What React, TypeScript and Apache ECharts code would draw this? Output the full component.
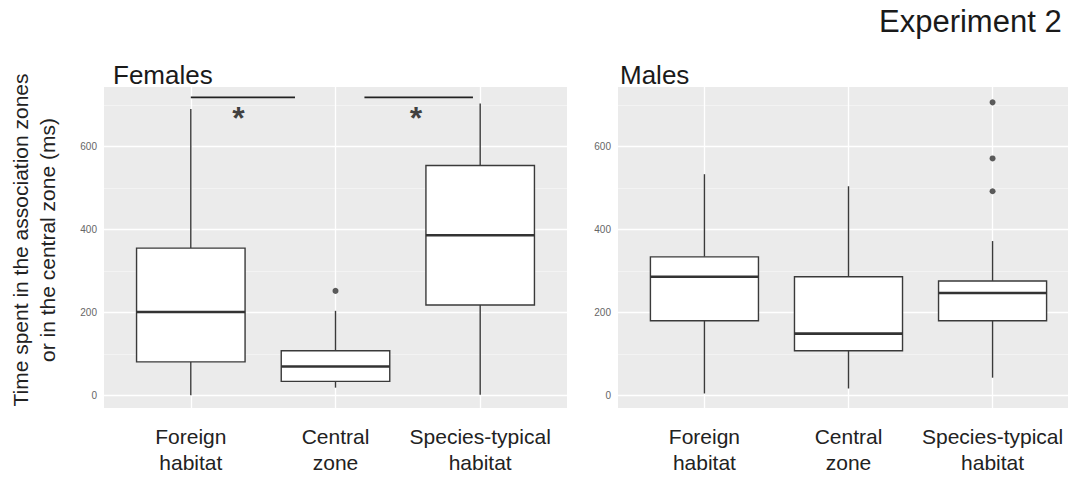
import React, { useEffect, useRef } from 'react';
import * as echarts from 'echarts';

const categories = ['Foreign\nhabitat', 'Central\nzone', 'Species-typical\nhabitat'];
const categoryPositions = [0, 1, 2];
const yTicks = [0, 200, 400, 600];
const yMinorTicks = [100, 300, 500, 700];

// [min, Q1, median, Q3, max]
const femaleBoxes = [
  [1, 81, 201, 355, 690],
  [19, 34, 70, 108, 204],
  [2, 218, 386, 554, 703],
];
const maleBoxes = [
  [5, 180, 286, 334, 533],
  [17, 108, 149, 286, 504],
  [43, 180, 247, 276, 372],
];
// [category position, value]
const femaleOutliers = [[1, 252]];
const maleOutliers = [[2, 706], [2, 571], [2, 492]];
// [x start, x end, y]
const femaleSigBars = [[0, 0.72, 718], [1.2, 1.95, 718]];
// [x, y]
const femaleStars = [[0.33, 678], [1.556, 678]];

const FONT = "'Liberation Sans', Arial, sans-serif";

const renderBox = (params: any, api: any) => {
  const x = api.value(0);
  const lo = api.coord([x, api.value(1)]);
  const q1 = api.coord([x, api.value(2)]);
  const med = api.coord([x, api.value(3)]);
  const q3 = api.coord([x, api.value(4)]);
  const hi = api.coord([x, api.value(5)]);
  const w = api.size([0.75, 0])[0];
  const stroke = '#3a3a3a';
  return {
    type: 'group',
    children: [
      { type: 'line', shape: { x1: lo[0], y1: lo[1], x2: q1[0], y2: q1[1] }, style: { stroke, lineWidth: 1.4 } },
      { type: 'line', shape: { x1: q3[0], y1: q3[1], x2: hi[0], y2: hi[1] }, style: { stroke, lineWidth: 1.4 } },
      {
        type: 'rect',
        shape: { x: q3[0] - w / 2, y: q3[1], width: w, height: q1[1] - q3[1] },
        style: { fill: '#ffffff', stroke, lineWidth: 1.4 },
      },
      {
        type: 'line',
        shape: { x1: med[0] - w / 2, y1: med[1], x2: med[0] + w / 2, y2: med[1] },
        style: { stroke: '#333', lineWidth: 2.6 },
      },
    ],
  };
};

const gridLines = () => ({
  silent: true,
  symbol: ['none', 'none'],
  label: { show: false },
  z: 1,
  emphasis: { disabled: true },
  data: [
    ...yMinorTicks.map((v) => ({ yAxis: v, lineStyle: { color: '#f7f7f7', width: 0.7, type: 'solid' } })),
    ...yTicks.map((v) => ({ yAxis: v, lineStyle: { color: '#ffffff', width: 1.3, type: 'solid' } })),
    ...categoryPositions.map((v) => ({ xAxis: v, lineStyle: { color: '#ffffff', width: 1.3, type: 'solid' } })),
  ],
});

const makeXAxis = (gridIndex: number) => ({
  type: 'value',
  gridIndex,
  min: -0.6,
  max: 2.6,
  axisLine: { show: false },
  splitLine: { show: false },
  axisTick: { show: true, customValues: categoryPositions, length: 4, lineStyle: { color: '#555', width: 1 } },
  axisLabel: {
    customValues: categoryPositions,
    formatter: (v: number) => categories[Math.round(v)],
    fontFamily: FONT,
    fontSize: 21,
    lineHeight: 26,
    color: '#222',
    margin: 15,
    align: 'center',
    hideOverlap: false,
  },
});

const makeYAxis = (gridIndex: number) => ({
  type: 'value',
  gridIndex,
  min: -30,
  max: 743,
  axisLine: { show: false },
  splitLine: { show: false },
  axisTick: { show: true, customValues: yTicks, length: 4, lineStyle: { color: '#777', width: 1 } },
  axisLabel: {
    customValues: yTicks,
    fontFamily: FONT,
    fontSize: 10,
    color: '#666',
    margin: 7,
  },
});

const boxData = (boxes: number[][]) => boxes.map((b, i) => [categoryPositions[i], ...b]);

export default function App() {
  const ref = useRef<HTMLDivElement>(null);
  useEffect(() => {
    if (!ref.current) return;
    const chart = echarts.init(ref.current, undefined, { renderer: 'svg' });
    const series: any[] = [
      {
        type: 'custom',
        xAxisIndex: 0,
        yAxisIndex: 0,
        renderItem: renderBox,
        encode: { x: 0, y: [1, 2, 3, 4, 5] },
        data: boxData(femaleBoxes),
        markLine: gridLines(),
        z: 2,
      },
      {
        type: 'custom',
        xAxisIndex: 1,
        yAxisIndex: 1,
        renderItem: renderBox,
        encode: { x: 0, y: [1, 2, 3, 4, 5] },
        data: boxData(maleBoxes),
        markLine: gridLines(),
        z: 2,
      },
      {
        type: 'scatter',
        xAxisIndex: 0,
        yAxisIndex: 0,
        data: femaleOutliers,
        symbolSize: 6,
        itemStyle: { color: '#333' },
        z: 3,
      },
      {
        type: 'scatter',
        xAxisIndex: 1,
        yAxisIndex: 1,
        data: maleOutliers,
        symbolSize: 6,
        itemStyle: { color: '#333' },
        z: 3,
      },
      ...femaleSigBars.map((b) => ({
        type: 'line',
        xAxisIndex: 0,
        yAxisIndex: 0,
        data: [
          [b[0], b[2]],
          [b[1], b[2]],
        ],
        symbol: 'none',
        lineStyle: { color: '#222', width: 1.7 },
        z: 3,
      })),
      {
        type: 'scatter',
        xAxisIndex: 0,
        yAxisIndex: 0,
        data: femaleStars,
        symbolSize: 1,
        itemStyle: { color: 'rgba(0,0,0,0)' },
        label: {
          show: true,
          position: 'inside',
          formatter: '*',
          fontFamily: FONT,
          fontSize: 32,
          fontWeight: 'bold',
          color: '#111',
          offset: [0, 4],
        },
        z: 3,
      },
    ];
    chart.setOption({
      animation: false,
      backgroundColor: '#ffffff',
      title: [
        { text: 'Females', left: 113, top: 62, padding: 0, textStyle: { fontFamily: FONT, fontSize: 26, fontWeight: 'normal', color: '#1a1a1a' } },
        { text: 'Males', left: 620, top: 62, padding: 0, textStyle: { fontFamily: FONT, fontSize: 26, fontWeight: 'normal', color: '#1a1a1a' } },
        { text: 'Experiment 2', left: 879, top: 6, padding: 0, textStyle: { fontFamily: FONT, fontSize: 31, fontWeight: 'normal', color: '#1a1a1a' } },
      ],
      grid: [
        { left: 104, top: 87, width: 463, height: 321, show: true, backgroundColor: '#EBEBEB', borderWidth: 0, containLabel: false, outerBoundsMode: 'none' },
        { left: 618, top: 87, width: 461, height: 321, show: true, backgroundColor: '#EBEBEB', borderWidth: 0, containLabel: false, outerBoundsMode: 'none' },
      ],
      xAxis: [makeXAxis(0), makeXAxis(1)],
      yAxis: [makeYAxis(0), makeYAxis(1)],
      graphic: [
        {
          type: 'text',
          x: 34,
          y: 240,
          rotation: Math.PI / 2,
          style: {
            text: 'Time spent in the association zones\nor in the central zone (ms)',
            align: 'center',
            verticalAlign: 'middle',
            fontFamily: FONT,
            fontSize: 21,
            lineHeight: 27,
            fill: '#222',
          },
        },
      ],
      series,
    });
    return () => chart.dispose();
  }, []);
  return <div ref={ref} style={{ position: 'fixed', left: 0, top: 0, width: 1068, height: 479 }} />;
}
